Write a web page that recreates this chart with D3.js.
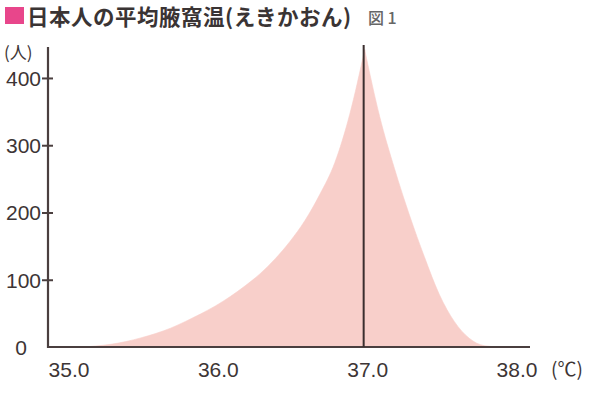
<!DOCTYPE html>
<html><head><meta charset="utf-8">
<script src="https://cdn.jsdelivr.net/npm/d3@7"></script>
<style>body{margin:0;background:#fff}svg{display:block}</style>
</head><body>
<script>
const temps  = [35.0,35.1,35.2,35.3,35.4,35.5,35.6,35.7,35.8,35.9,36.0,36.1,36.2,36.3,36.4,36.5,36.6,36.7,36.8,36.9,37.0,37.1,37.2,37.3,37.4,37.5,37.6,37.7,37.8,37.9];
const counts = [0,0,1.5,4,8,13.5,20,28,38,49,61,75,91,109,131,157,188,227,274,346,442,343,265,196,134,78,38,13,2,0];
const peakTemp = 37.0;
const lineTop = 449;
const yTicks = [0,100,200,300,400];
const xTicks = [35.0,36.0,37.0,38.0];
const xTickLabels = ["35.0","36.0","37.0","38.0"];
const title = "日本人の平均腋窩温(えきかおん)";
const figLabel = "図 1";
const yUnit = "(人)";
const xUnit = "(℃)";

const W = 600, H = 402;
const svg = d3.select("body").append("svg").attr("width", W).attr("height", H);

const x = d3.scaleLinear().domain([35, 38]).range([66, 514]);
const xMax = x.invert(530);
const y = d3.scaleLinear().domain([0, lineTop]).range([347, 45]);

const pts = temps.map((t, i) => ({t, v: counts[i]}));
const left = pts.filter(d => d.t <= peakTemp);
const right = pts.filter(d => d.t >= peakTemp);
const area = d3.area().x(d => x(d.t)).y0(y(0)).y1(d => y(d.v)).curve(d3.curveMonotoneX);
[left, right].forEach(seg => {
  svg.append("path").datum(seg).attr("d", area).attr("fill", "#f8cfca").attr("stroke", "#f8cfca").attr("stroke-width", 0.6);
});

const axisColor = "#4a3f3f";
const yAxis = d3.axisLeft(y).tickValues(yTicks.filter(v => v > 0)).tickSize(6).tickFormat("");
const gy = svg.append("g").attr("transform", `translate(48,0)`).call(yAxis);
gy.select(".domain").remove();
gy.selectAll(".tick line").attr("x1", -6).attr("x2", 5).attr("stroke", axisColor).attr("stroke-width", 2);
svg.append("line").attr("x1", 48).attr("x2", 48).attr("y1", y(0) + 1).attr("y2", y(446)).attr("stroke", axisColor).attr("stroke-width", 2.2);
svg.append("line").attr("x1", 47).attr("x2", x(xMax)).attr("y1", y(0)).attr("y2", y(0)).attr("stroke", axisColor).attr("stroke-width", 2.2);

svg.append("line").attr("x1", x(peakTemp) - 1).attr("x2", x(peakTemp) - 1).attr("y1", y(0)).attr("y2", y(lineTop)).attr("stroke", "#3a2e2e").attr("stroke-width", 2);

const numFont = "'Liberation Sans', Arial, sans-serif";
svg.selectAll(".ylab").data(yTicks).enter().append("text")
  .attr("x", d => d === 0 ? 27 : 41).attr("y", d => y(d) + 8)
  .attr("text-anchor", "end").attr("font-family", numFont).attr("font-size", 21)
  .attr("fill", "#3d3535").text(d => d);

svg.selectAll(".xlab").data(xTicks).enter().append("text")
  .attr("x", d => x(d) + 3).attr("y", 377)
  .attr("text-anchor", "middle").attr("font-family", numFont).attr("font-size", 21)
  .attr("fill", "#3d3535").text((d, i) => xTickLabels[i]);

const jp = "'Noto Sans CJK JP', sans-serif";
svg.append("text").attr("x", 551).attr("y", 376).attr("font-family", jp).attr("font-size", 19)
  .attr("fill", "#3d3535").text(xUnit);
svg.append("text").attr("x", 4).attr("y", 59).attr("font-family", jp).attr("font-size", 17)
  .attr("fill", "#3d3535").text(yUnit);

svg.append("rect").attr("x", 5).attr("y", 7).attr("width", 19).attr("height", 17).attr("fill", "#e8468b");
svg.append("text").attr("x", 27).attr("y", 25).attr("font-family", jp).attr("font-weight", 700)
  .attr("font-size", 21.5).attr("letter-spacing", 0.5).attr("fill", "#3a3434").text(title);
svg.append("text").attr("x", 368).attr("y", 24).attr("font-family", jp).attr("font-weight", 500)
  .attr("font-size", 16).attr("fill", "#666").text(figLabel);
</script>
</body></html>
